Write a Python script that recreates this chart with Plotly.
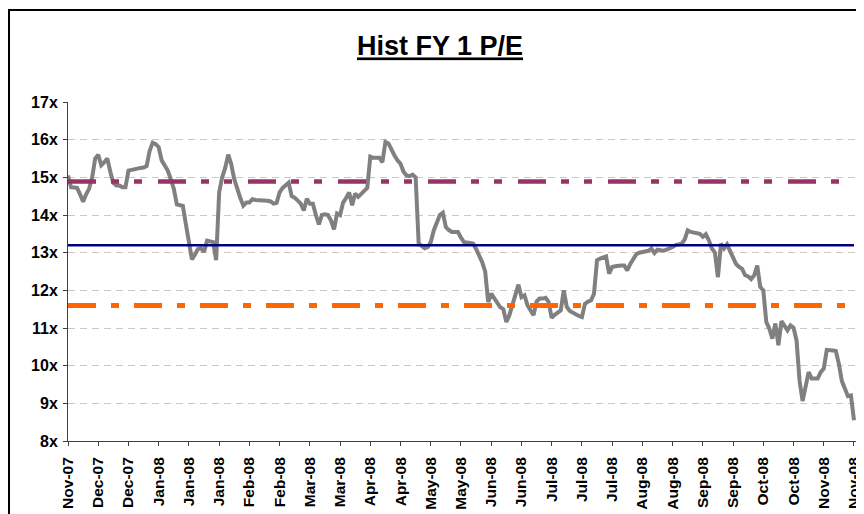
"""
pe_history.py

Historic forward (FY1) P/E band chart: daily multiple with the period
mean and +/- 1 standard deviation drawn as flat reference lines.
"""

import plotly.graph_objects as go

# ---- data -----------------------------------------------------------------
# daily FY1 P/E, Nov-07 .. Nov-08 (one value per trading day)
pe = [
    15.05, 14.74, 14.73, 14.72, 14.55, 14.35, 14.55, 14.70, 15.00, 15.50,
    15.60, 15.32, 15.40, 15.50, 15.15, 14.85, 14.78, 14.78, 14.74, 14.74,
    15.18, 15.20, 15.22, 15.25, 15.25, 15.26, 15.30, 15.70, 15.92, 15.88,
    15.80, 15.45, 15.30, 15.18, 14.95, 14.70, 14.28, 14.26, 14.24, 13.75,
    13.25, 12.82, 12.95, 13.10, 13.12, 13.02, 13.32, 13.30, 13.28, 12.80,
    14.60, 15.00, 15.25, 15.60, 15.35, 14.95, 14.65, 14.45, 14.25, 14.33,
    14.33, 14.42, 14.40, 14.40, 14.40, 14.40, 14.38, 14.36, 14.30, 14.32,
    14.60, 14.72, 14.80, 14.86, 14.50, 14.46, 14.38, 14.30, 14.12, 14.43,
    14.30, 14.30, 14.00, 13.75, 14.00, 14.02, 14.00, 13.85, 13.62, 14.04,
    14.00, 14.33, 14.45, 14.60, 14.26, 14.57, 14.48, 14.55, 14.62, 14.72,
    15.55, 15.52, 15.52, 15.52, 15.40, 15.94, 15.90, 15.72, 15.58, 15.45,
    15.36, 15.15, 15.05, 15.03, 15.07, 15.00, 13.25, 13.18, 13.12, 13.15,
    13.28, 13.59, 13.80, 14.00, 14.06, 13.68, 13.60, 13.55, 13.55, 13.55,
    13.40, 13.28, 13.27, 13.25, 13.24, 13.10, 12.95, 12.75, 12.50, 11.69,
    11.91, 11.78, 11.69, 11.55, 11.50, 11.16, 11.34, 11.60, 11.95, 12.15,
    11.82, 11.87, 11.60, 11.45, 11.34, 11.70, 11.78, 11.78, 11.80, 11.69,
    11.27, 11.35, 11.40, 11.47, 12.00, 11.56, 11.45, 11.40, 11.34, 11.32,
    11.29, 11.64, 11.70, 11.73, 11.91, 12.80, 12.84, 12.87, 12.90, 12.44,
    12.62, 12.64, 12.66, 12.66, 12.66, 12.53, 12.70, 12.85, 12.96, 13.00,
    13.02, 13.02, 13.05, 13.11, 12.99, 13.08, 13.06, 13.05, 13.08, 13.11,
    13.15, 13.20, 13.22, 13.24, 13.35, 13.59, 13.55, 13.53, 13.50, 13.50,
    13.42, 13.49, 13.33, 13.11, 13.00, 12.35, 13.24, 13.11, 13.22, 13.06,
    12.88, 12.70, 12.62, 12.57, 12.40, 12.37, 12.30, 12.40, 12.66, 12.09,
    12.00, 11.16, 10.98, 10.72, 11.12, 10.54, 11.18, 11.05, 10.94, 11.07,
    11.01, 10.67, 9.60, 9.06, 9.52, 9.83, 9.66, 9.66, 9.66, 9.83,
    9.92, 10.42, 10.42, 10.40, 10.39, 10.05, 9.59, 9.40, 9.19, 9.21,
    8.55,
]

# band levels (mean, mean +/- 1 sd)
pe_mean = 13.20
pe_plus_sd = 14.89
pe_minus_sd = 11.60

# category labels, one every 10 trading days
tick_labels = [
    "Nov-07", "Dec-07", "Dec-07", "Jan-08", "Jan-08", "Jan-08", "Feb-08",
    "Feb-08", "Mar-08", "Mar-08", "Apr-08", "Apr-08", "May-08", "May-08",
    "Jun-08", "Jun-08", "Jul-08", "Jul-08", "Jul-08", "Aug-08", "Aug-08",
    "Sep-08", "Sep-08", "Oct-08", "Oct-08", "Nov-08", "Nov-08",
]
tick_step = 10

y_ticks = [8, 9, 10, 11, 12, 13, 14, 15, 16, 17]
y_tick_labels = ["8x", "9x", "10x", "11x", "12x", "13x", "14x", "15x",
                 "16x", "17x"]

# ---- layout constants -----------------------------------------------------
# the page body keeps its default 8px margin, so the div is 8px smaller
W, H = 856, 506
M = dict(l=60, r=7, t=94, b=73)
FONT = "Liberation Sans"


def band_line(level, n, color, width, dash):
    return go.Scatter(x=[0, n - 1], y=[level, level], mode="lines",
                      line=dict(color=color, width=width, dash=dash),
                      hoverinfo="skip", showlegend=False)


def build():
    n = len(pe)
    days = list(range(n))
    fig = go.Figure()
    fig.add_trace(go.Scatter(x=days, y=pe, mode="lines",
                             line=dict(color="#808080", width=4),
                             showlegend=False))
    # reference lines sit on top of the series, as in the original sheet
    fig.add_trace(band_line(pe_plus_sd, n, "#993366", 4.5,
                            "28px,15px,8px,15px,8px,16px"))
    fig.add_trace(band_line(pe_mean, n, "#000080", 2.5, "solid"))
    fig.add_trace(band_line(pe_minus_sd, n, "#FF6600", 5,
                            "28px,15px,8px,15px"))

    pw = W - M["l"] - M["r"]
    ph = H - M["t"] - M["b"]
    # outer chart frame (paper coords are relative to the plot area)
    frame = dict(type="rect", xref="paper", yref="paper",
                 x0=(1 - M["l"]) / pw, x1=(W + 10 - M["l"]) / pw,
                 y0=-(H + 10 - M["t"] - ph) / ph, y1=1 + (M["t"] - 2) / ph,
                 line=dict(color="black", width=2), layer="below")

    fig.update_layout(
        width=W, height=H, margin=M,
        paper_bgcolor="white", plot_bgcolor="white",
        title=dict(text="<u>Hist FY 1 P/E</u>", x=432 / W, xanchor="center",
                   xref="container", y=1 - 38 / H, yanchor="middle",
                   font=dict(family=FONT, size=27, color="black",
                             weight="bold")),
        shapes=[frame],
        xaxis=dict(range=[0, n], tickmode="array", automargin=False,
                   tickvals=days[::tick_step], ticktext=tick_labels,
                   tickangle=-90, ticks="outside", ticklen=4,
                   ticklabelstandoff=5,
                   tickcolor="#404040", showgrid=False, zeroline=False,
                   showline=True, linecolor="#404040", linewidth=1,
                   tickfont=dict(family=FONT, size=15.5, color="black",
                                 weight="bold")),
        yaxis=dict(range=[8, 17], tickmode="array", tickvals=y_ticks,
                   ticktext=y_tick_labels, ticks="outside", ticklen=4,
                   ticklabelstandoff=2, automargin=False,
                   tickcolor="#404040", showline=True, linecolor="#404040",
                   linewidth=1, zeroline=False, showgrid=True,
                   gridcolor="#c8c8c8", griddash="7px,5px", gridwidth=1,
                   tickfont=dict(family=FONT, size=16, color="black",
                                 weight="bold")),
    )
    return fig


if __name__ == "__main__":
    build().write_html("out.html")
